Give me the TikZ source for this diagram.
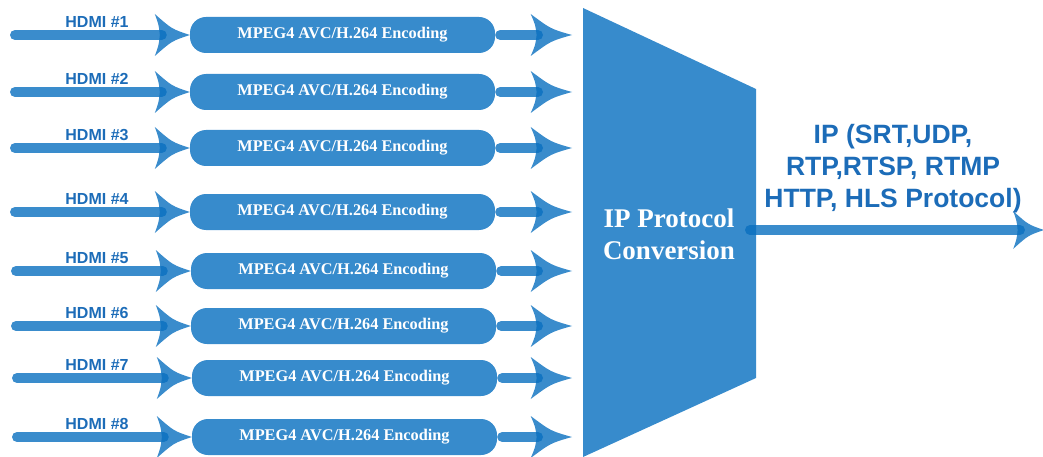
\documentclass[tikz,border=0pt]{standalone}
\usepackage{fontspec}
\setmainfont{Liberation Serif}
\setsansfont{Liberation Sans}
\usetikzlibrary{calc}
\definecolor{mb}{RGB}{55,139,204}
\definecolor{hb}{RGB}{9,111,191}
\definecolor{tb}{RGB}{28,108,184}
\begin{document}
\begin{tikzpicture}[x=1pt,y=-1pt,
 ln/.style={line width=10pt, draw=hb, draw opacity=0.8, line cap=round},
 enc/.style={fill=mb, rounded corners=16pt, minimum width=305pt, minimum height=36pt, inner sep=0pt, text=white, font=\fontsize{16.3}{18}\selectfont\bfseries},
 hlab/.style={text=tb, font=\sffamily\bfseries\fontsize{16}{18}\selectfont},
 swhead/.pic={\fill[hb, fill opacity=0.8] (-35,-21) .. controls (-18,-6) .. (0,0) .. controls (-18,6) .. (-35,21) .. controls (-31,10) .. (-30,0) .. controls (-31,-10) .. (-35,-21) -- cycle;}
]
\useasboundingbox (0,0) rectangle (1043,457);
% conversion block
\fill[mb] (583,8) -- (756,89) -- (756,378) -- (583,457) -- cycle;
\node[text=white, font=\fontsize{27}{32}\selectfont\bfseries, align=center] (conv) at (669,234) {IP Protocol\\Conversion};
% channels
\foreach \i/\y/\dx in {1/35/0,2/92/0,3/148/0,4/212/0,5/271/1,6/326/1,7/378/2,8/437/2} {
 \node[enc] (b\i) at (342.5+\dx,\y) {MPEG4 AVC/H.264 Encoding};
 \node[hlab] (h\i) at (97,\y-13) {HDMI \#\i};
 \coordinate (s\i) at (15+\dx,\y);
 \coordinate (e\i) at (572,\y);
 \draw[ln, shorten >=28pt] (s\i) -- (b\i.west);
 \pic at (b\i.west) {swhead};
 \draw[ln, shorten <=5pt, shorten >=34pt] (b\i.east) -- (e\i);
 \pic[xscale=1.18] at (e\i) {swhead};
}
% output
\coordinate (o1) at (750,230);
\coordinate (o2) at (1044,230);
\draw[ln, shorten >=24pt] (o1) -- (o2);
\pic[xscale=0.88, yscale=0.9] at (o2) {swhead};
\node[text=tb, font=\sffamily\bfseries\fontsize{26.5}{32}\selectfont, align=center] (ip) at (893,169) {IP (SRT,UDP,\\RTP,RTSP, RTMP\\HTTP, HLS Protocol)};
\end{tikzpicture}
\end{document}
